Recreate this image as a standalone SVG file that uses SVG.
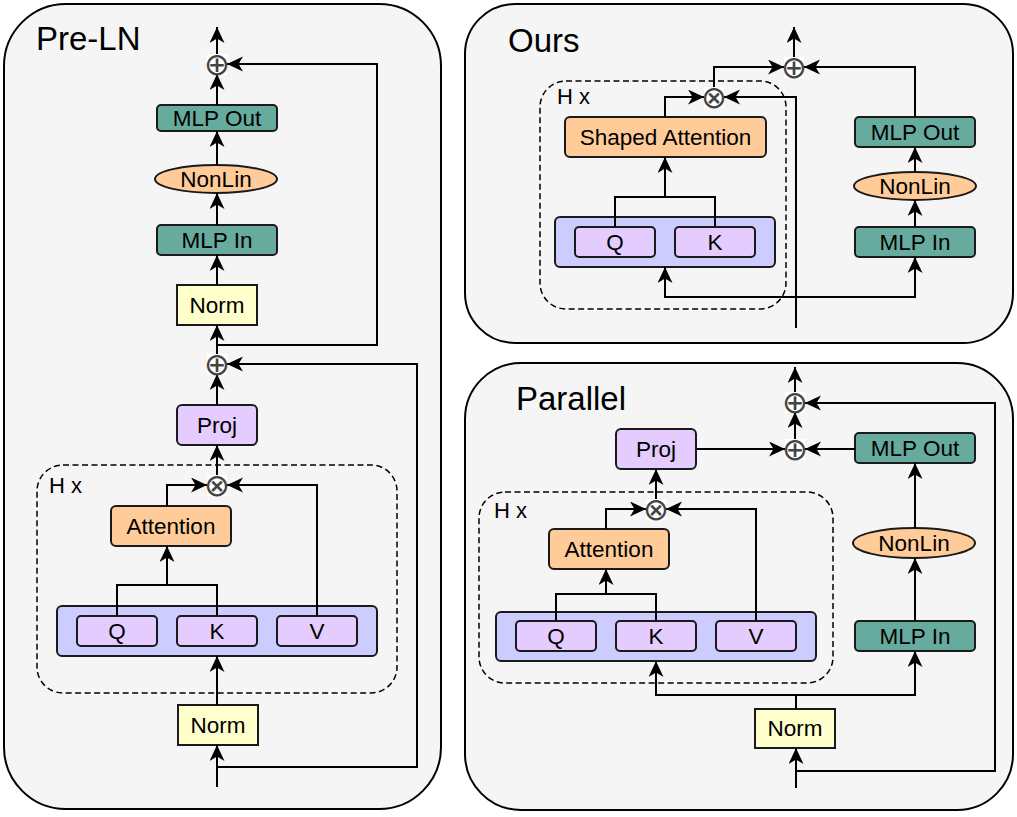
<svg xmlns="http://www.w3.org/2000/svg" width="1017" height="817" viewBox="0 0 1017 817">
<defs>
<style>
.panel{fill:#f5f5f5;stroke:#000;stroke-width:2}
.dash{fill:none;stroke:#000;stroke-width:1.5;stroke-dasharray:6 3.5}
.teal{fill:#67ab9f;stroke:#1a1a1a;stroke-width:2}
.orange{fill:#ffcc99;stroke:#1a1a1a;stroke-width:2}
.purple{fill:#e5ccff;stroke:#1a1a1a;stroke-width:2}
.blue{fill:#ccccff;stroke:#1a1a1a;stroke-width:2}
.yellow{fill:#ffffcc;stroke:#1a1a1a;stroke-width:2}
.lbl{font-family:"Liberation Sans",Arial,sans-serif;font-size:22.5px;fill:#000;text-anchor:middle}
.title{font-family:"Liberation Sans",Arial,sans-serif;font-size:33px;fill:#000}
.hx{font-family:"Liberation Sans",Arial,sans-serif;font-size:22px;fill:#000}
.conn path{fill:none;stroke:#000;stroke-width:2}
.arr{marker-end:url(#ah)}
.opbg{fill:#fff;stroke:none}
.op{font-family:"DejaVu Sans",sans-serif;font-size:31px;font-weight:200;fill:#444;text-anchor:middle;dominant-baseline:central}
</style>
<marker id="ah" markerUnits="userSpaceOnUse" markerWidth="17" markerHeight="16" refX="16" refY="7.5" orient="auto" viewBox="0 0 17 16">
<path d="M16,7.5 L0,0 L4.5,7.5 L0,15 Z" fill="#000"/>
</marker>
</defs>

<!-- panels -->
<g id="panel-preln">
<rect class="panel" x="4" y="4" width="437" height="805" rx="62" ry="62"/>
<text class="title" x="36" y="50">Pre-LN</text>
</g>
<g id="panel-ours">
<rect class="panel" x="465" y="4" width="548" height="339" rx="50" ry="50"/>
<text class="title" x="508" y="52">Ours</text>
</g>
<g id="panel-parallel">
<rect class="panel" x="465" y="363" width="548" height="447" rx="56" ry="56"/>
<text class="title" x="516" y="410">Parallel</text>
</g>

<!-- Pre-LN nodes -->
<g id="preln-heads"><rect class="dash" x="37" y="465" width="360" height="228" rx="26"/><text class="hx" x="49" y="493">H x</text></g>
<g id="preln-mlpout"><rect class="teal" x="157" y="105" width="120" height="26" rx="4"/><text class="lbl" x="217" y="126">MLP Out</text></g>
<g id="preln-nonlin"><ellipse class="orange" cx="216" cy="179" rx="61" ry="14"/><text class="lbl" x="216" y="187">NonLin</text></g>
<g id="preln-mlpin"><rect class="teal" x="157" y="225" width="120" height="30" rx="4"/><text class="lbl" x="217" y="248">MLP In</text></g>
<g id="preln-norm2"><rect class="yellow" x="177" y="285" width="80" height="40"/><text class="lbl" x="217" y="313">Norm</text></g>
<g id="preln-proj"><rect class="purple" x="177" y="405" width="80" height="40" rx="5"/><text class="lbl" x="217" y="433">Proj</text></g>
<g id="preln-attn"><rect class="orange" x="111" y="506" width="120" height="40" rx="5"/><text class="lbl" x="171" y="534">Attention</text></g>
<g id="preln-qkv"><rect class="blue" x="57" y="606" width="320" height="50" rx="5"/></g>
<g id="preln-q"><rect class="purple" x="77" y="616" width="80" height="30" rx="4"/><text class="lbl" x="117" y="639">Q</text></g>
<g id="preln-k"><rect class="purple" x="177" y="616" width="80" height="30" rx="4"/><text class="lbl" x="217" y="639">K</text></g>
<g id="preln-v"><rect class="purple" x="277" y="616" width="80" height="30" rx="4"/><text class="lbl" x="317" y="639">V</text></g>
<g id="preln-norm1"><rect class="yellow" x="178" y="705" width="80" height="40"/><text class="lbl" x="218" y="733">Norm</text></g>

<!-- Ours nodes -->
<g id="ours-heads"><rect class="dash" x="540" y="81" width="246" height="228" rx="26"/><text class="hx" x="557" y="104">H x</text></g>
<g id="ours-attn"><rect class="orange" x="565" y="117" width="201" height="40" rx="5"/><text class="lbl" x="665.5" y="145">Shaped Attention</text></g>
<g id="ours-qk"><rect class="blue" x="555" y="217" width="220" height="50" rx="5"/></g>
<g id="ours-q"><rect class="purple" x="575" y="227" width="80" height="30" rx="4"/><text class="lbl" x="615" y="250">Q</text></g>
<g id="ours-k"><rect class="purple" x="675" y="227" width="80" height="30" rx="4"/><text class="lbl" x="715" y="250">K</text></g>
<g id="ours-mlpout"><rect class="teal" x="855" y="117" width="120" height="30" rx="4"/><text class="lbl" x="915" y="140">MLP Out</text></g>
<g id="ours-nonlin"><ellipse class="orange" cx="915" cy="186" rx="61" ry="14"/><text class="lbl" x="915" y="194">NonLin</text></g>
<g id="ours-mlpin"><rect class="teal" x="855" y="227" width="120" height="30" rx="4"/><text class="lbl" x="915" y="250">MLP In</text></g>

<!-- Parallel nodes -->
<g id="par-heads"><rect class="dash" x="479" y="492" width="354" height="191" rx="26"/><text class="hx" x="494" y="518">H x</text></g>
<g id="par-proj"><rect class="purple" x="616" y="429" width="80" height="40" rx="5"/><text class="lbl" x="656" y="457">Proj</text></g>
<g id="par-attn"><rect class="orange" x="549" y="529" width="120" height="40" rx="5"/><text class="lbl" x="609" y="557">Attention</text></g>
<g id="par-qkv"><rect class="blue" x="496" y="612" width="320" height="49" rx="5"/></g>
<g id="par-q"><rect class="purple" x="516" y="621" width="80" height="30" rx="4"/><text class="lbl" x="556" y="644">Q</text></g>
<g id="par-k"><rect class="purple" x="616" y="621" width="80" height="30" rx="4"/><text class="lbl" x="656" y="644">K</text></g>
<g id="par-v"><rect class="purple" x="716" y="621" width="80" height="30" rx="4"/><text class="lbl" x="756" y="644">V</text></g>
<g id="par-norm"><rect class="yellow" x="755" y="709" width="80" height="39"/><text class="lbl" x="795" y="736">Norm</text></g>
<g id="par-mlpout"><rect class="teal" x="855" y="433" width="120" height="30" rx="4"/><text class="lbl" x="915" y="456">MLP Out</text></g>
<g id="par-nonlin"><ellipse class="orange" cx="914" cy="543" rx="61" ry="15"/><text class="lbl" x="914" y="551">NonLin</text></g>
<g id="par-mlpin"><rect class="teal" x="855" y="621" width="120" height="30" rx="4"/><text class="lbl" x="915" y="644">MLP In</text></g>

<!-- connectors -->
<g id="connectors" class="conn">
<path class="arr" d="M217,55 L217,27"/>
<path class="arr" d="M217,105 L217,74"/>
<path class="arr" d="M217,165 L217,131"/>
<path class="arr" d="M217,225 L217,193"/>
<path class="arr" d="M217,285 L217,255"/>
<path class="arr" d="M217,355 L217,325"/>
<path class="arr" d="M217,345 L377,345 L377,64 L227,64"/>
<path class="arr" d="M217,405 L217,374"/>
<path class="arr" d="M217,476 L217,445"/>
<path class="arr" d="M167,506 L167,485 L207,485"/>
<path class="arr" d="M317,616 L317,485 L227,485"/>
<path d="M117,616 L117,585 L217,585 L217,616"/>
<path class="arr" d="M167,585 L167,546"/>
<path class="arr" d="M217,705 L217,656"/>
<path class="arr" d="M217,787 L217,745"/>
<path class="arr" d="M217,767 L417,767 L417,364 L227,364"/>

<path class="arr" d="M794,58 L794,27"/>
<path class="arr" d="M714,88 L714,67 L784,67"/>
<path class="arr" d="M915,117 L915,67 L804,67"/>
<path class="arr" d="M665,117 L665,97 L704,97"/>
<path class="arr" d="M796,328 L796,97 L724,97"/>
<path d="M615,227 L615,197 L715,197 L715,227"/>
<path class="arr" d="M665,197 L665,157"/>
<path class="arr" d="M796,297 L665,297 L665,267"/>
<path class="arr" d="M796,297 L915,297 L915,257"/>
<path class="arr" d="M915,227 L915,200"/>
<path class="arr" d="M915,172 L915,147"/>

<path class="arr" d="M795,393 L795,367"/>
<path class="arr" d="M795,440 L795,412"/>
<path class="arr" d="M796,771 L995,771 L995,403 L805,403"/>
<path class="arr" d="M796,788 L796,748"/>
<path class="arr" d="M796,709 L796,695 L656,695 L656,661"/>
<path class="arr" d="M796,695 L915,695 L915,651"/>
<path class="arr" d="M915,621 L915,558"/>
<path class="arr" d="M915,528 L915,463"/>
<path class="arr" d="M855,449 L805,449"/>
<path class="arr" d="M696,449 L785,449"/>
<path class="arr" d="M656,500 L656,469"/>
<path class="arr" d="M606,529 L606,509 L646,509"/>
<path class="arr" d="M756,621 L756,509 L666,509"/>
<path d="M556,621 L556,594 L656,594 L656,621"/>
<path class="arr" d="M606,594 L606,569"/>
</g>

<!-- operators -->
<g id="preln-add2"><rect class="opbg" x="207" y="54" width="20" height="21"/><text class="op" x="217" y="64">⊕</text></g>
<g id="preln-add1"><rect class="opbg" x="207" y="354" width="20" height="21"/><text class="op" x="217" y="364">⊕</text></g>
<g id="preln-mul"><rect class="opbg" x="207" y="475" width="20" height="21"/><text class="op" x="217" y="485">⊗</text></g>
<g id="ours-add"><rect class="opbg" x="784" y="57" width="20" height="21"/><text class="op" x="794" y="67">⊕</text></g>
<g id="ours-mul"><rect class="opbg" x="704" y="87" width="20" height="21"/><text class="op" x="714" y="97">⊗</text></g>
<g id="par-add2"><rect class="opbg" x="785" y="392" width="20" height="21"/><text class="op" x="795" y="402">⊕</text></g>
<g id="par-add1"><rect class="opbg" x="785" y="439" width="20" height="21"/><text class="op" x="795" y="449">⊕</text></g>
<g id="par-mul"><rect class="opbg" x="646" y="499" width="20" height="21"/><text class="op" x="656" y="509">⊗</text></g>
</svg>
